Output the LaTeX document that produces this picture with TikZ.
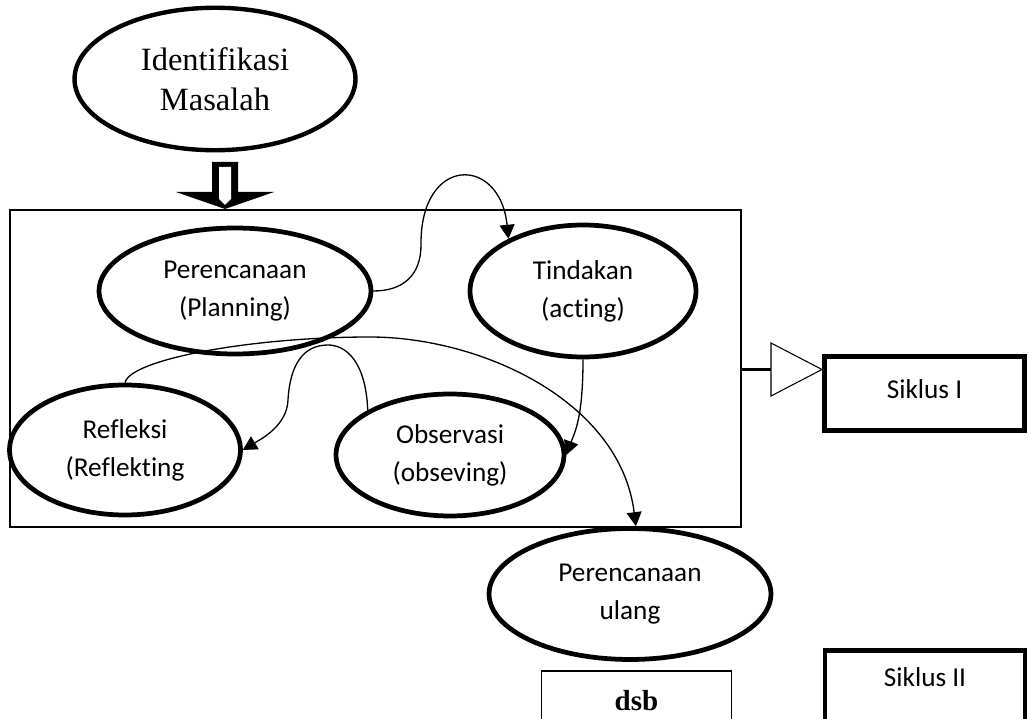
\documentclass[tikz,border=0pt]{standalone}
\usepackage{fontspec}
\setmainfont{Liberation Serif}
\newfontfamily\calibri[Ligatures=CommonOff]{Carlito}
\usepackage{tikz}
\usetikzlibrary{arrows.meta,shapes.geometric}
\tikzset{
    stage/.style={ellipse,draw,line width=2.7pt,inner sep=0pt,align=center,
        font=\calibri\fontsize{15.5}{21.6}\selectfont},
    edge/.style={->,>={Triangle[length=8pt,width=8.5pt]},line width=0.75pt},
    siklus/.style={rectangle,draw,line width=2.8pt,inner sep=0pt,
        font=\calibri\fontsize{15.5}{21.6}\selectfont}
}

\begin{document}
\begin{tikzpicture}[x=0.02cm,y=-0.02cm]
\useasboundingbox (0,0) rectangle (1029,719);
\clip (0,0) rectangle (1029,719);

\node[draw,line width=0.75pt,minimum width=14.62cm,minimum height=6.34cm] (0) at (375.5,368.5) {};

\node[stage,line width=2.5pt,minimum width=5.62cm,minimum height=2.85cm,font=\fontsize{18.5}{22.5}\selectfont] (1) at (215,79) {Identifikasi\\Masalah};
\node[stage,minimum width=5.44cm,minimum height=2.52cm] (2) at (235,291) {Perencanaan\\(Planning)};
\node[stage,minimum width=4.52cm,minimum height=2.64cm] (3) at (583,291) {Tindakan\\(acting)};
\node[stage,minimum width=4.56cm,minimum height=2.44cm] (4) at (450,455) {Observasi\\(obseving)};
\node[stage,minimum width=4.62cm,minimum height=2.6cm] (5) at (125,450) {Refleksi\\(Reflekting};
\node[stage,minimum width=5.64cm,minimum height=2.62cm] (6) at (630,594) {Perencanaan\\ulang};

\node[siklus,minimum width=4cm,minimum height=1.48cm,text depth=5.5pt] (7) at (924.5,393.5) {Siklus I};
\node[siklus,anchor=north,minimum width=4cm,text height=20pt,text depth=45pt] (8) at (925,648.5) {Siklus II};
\node[draw,line width=0.75pt,anchor=north,minimum width=3.8cm,inner sep=0pt,text height=22.5pt,text depth=30pt,
    font=\bfseries\fontsize{16.5}{20}\selectfont] (9) at (636.5,670.5) {dsb};

% block arrow into the cycle
\fill (212,162) -- (238,162) -- (238,192) -- (274,192) -- (225,209) -- (176,192) -- (212,192) -- cycle;
\fill[white] (219,167) -- (231,167) -- (231,199) -- (225,205) -- (219,199) -- cycle;

% cycle to Siklus I
\coordinate (t) at (771,369.5);
\draw[line width=0.6pt] (t) ++(0,-26.5) -- ++(51,26.5) -- ++(-51,26.5) -- cycle;
\draw[line width=1.5pt] (0.east |- t) -- (t);

\draw[edge] (2.east) .. controls +(30,0) and +(0,30) .. (421,245)
    .. controls (420,155) and (500,155) .. (3.145);
\draw[edge] (3.south) .. controls +(0,60) and +(8,-22) .. (4.east);
\draw[edge] (4.north west) .. controls +(-2,-50) and +(17,0) .. (328,345)
    .. controls +(-25,0) and +(2,-35) .. (288,400)
    .. controls +(-1,25) and +(20,-12) .. (5.east);
\draw[edge] (5.north) .. controls +(5,-23) and +(-120,0) .. (370,337)
    .. controls +(110,0) and +(-16,-126) .. (6.85);

\end{tikzpicture}
\end{document}
